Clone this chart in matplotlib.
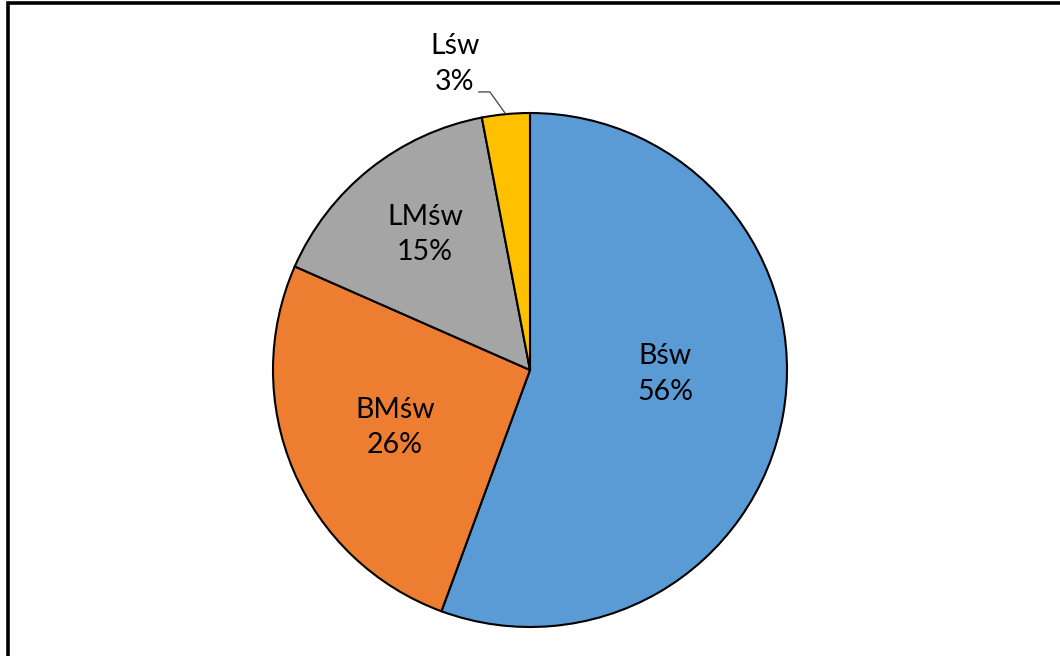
import matplotlib
matplotlib.use("Agg")
import matplotlib.pyplot as plt
from matplotlib.patches import Rectangle
import numpy as np

# Share of each category
categories = ["Bśw", "BMśw", "LMśw", "Lśw"]
shares = [55.6, 26.0, 15.4, 3.0]
colors = ["#5B9BD5", "#ED7D31", "#A5A5A5", "#FFC000"]

# Label anchor points in pie-radius units (last one sits outside with a leader)
label_pos = [(0.525, -0.016), (-0.525, -0.224), (-0.409, 0.527), (-0.292, 1.19)]

plt.rcParams["font.family"] = ["Lato", "DejaVu Sans"]

W, H = 1060, 656
fig = plt.figure(figsize=(W / 100, H / 100), dpi=100)
fig.patch.set_facecolor("white")

cx, cy, r = 530, H - 370, 257
ax = fig.add_axes([(cx - r) / W, (cy - r) / H, 2 * r / W, 2 * r / H])

wedges, _ = ax.pie(
    shares,
    colors=colors,
    startangle=90,
    counterclock=False,
    radius=1.0,
    wedgeprops=dict(edgecolor="black", linewidth=1.5),
)
ax.set_xlim(-1, 1)
ax.set_ylim(-1, 1)
ax.set_aspect("equal")
ax.axis("off")

for name, val, (lx, ly) in zip(categories, shares, label_pos):
    ax.text(lx, ly, f"{name}\n{val:.0f}%", ha="center", va="center",
            multialignment="center", fontsize=20.5, linespacing=1.45,
            color="black", clip_on=False)

# Leader line for the small outside label
w = wedges[3]
mid = np.deg2rad((w.theta1 + w.theta2) / 2)
ex, ey = np.cos(mid), np.sin(mid)
ax.plot([-0.202, -0.156, ex], [1.082, 1.082, ey], color="#404040",
        linewidth=0.9, clip_on=False, solid_capstyle="butt")

# Chart-area border (extends past the right and bottom edges)
fig.patches.append(Rectangle((7.5 / W, -0.1), 1.2, (H - 3) / H + 0.1,
                             transform=fig.transFigure, fill=False,
                             edgecolor="black", linewidth=2.6))

fig.savefig("out.png", dpi=100)
